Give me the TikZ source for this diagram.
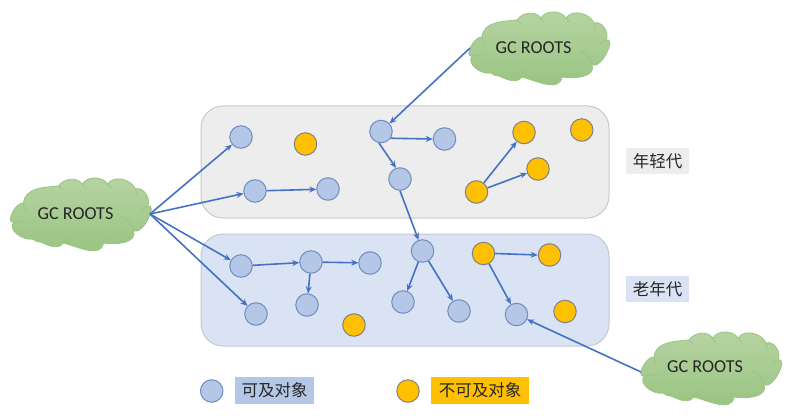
\documentclass[tikz,border=0pt]{standalone}
\usepackage{fontspec}
\setmainfont{Carlito}
\newfontfamily\cjk{Noto Sans CJK SC}
\usetikzlibrary{arrows.meta}
\definecolor{blueobj}{HTML}{B4C7E7}
\definecolor{blueline}{HTML}{6F8DBE}
\definecolor{orangeobj}{HTML}{FFC000}
\definecolor{greyline}{HTML}{7F8088}
\definecolor{link}{HTML}{4472C4}
\definecolor{youngfill}{HTML}{EDEDED}
\definecolor{youngline}{HTML}{C9C9C9}
\definecolor{oldfill}{HTML}{D9E3F3}
\definecolor{oldline}{HTML}{C5CAD3}
\definecolor{cloudtop}{HTML}{B7D4A3}
\definecolor{cloudbot}{HTML}{97C37F}
\definecolor{cloudline}{HTML}{9CC685}
\tikzset{
  live/.style={circle,draw=blueline,fill=blueobj,line width=1pt,minimum size=22.5pt,inner sep=0pt},
  dead/.style={circle,draw=greyline,fill=orangeobj,line width=1pt,minimum size=22.5pt,inner sep=0pt},
  linkline/.style={draw=link,line width=1.6pt,-{Stealth[length=7pt,width=6pt]}},
  gen/.style={rounded corners=22pt,line width=1pt},
  tag/.style={font=\cjk\fontsize{16.5}{20}\selectfont,text=black!85,inner sep=0pt,minimum height=26.5pt,anchor=center},
  cloudtext/.style={font=\fontsize{18.2}{20}\selectfont,text=black!85,inner sep=0pt},
  cloudbody/.style={draw=cloudline,line width=0.9pt,top color=cloudtop,bottom color=cloudbot},
  clouddetail/.style={draw=cloudline,line width=0.9pt}
}
\newcommand{\gccloud}[5]{%
  \begin{scope}[shift={(#1,#2)}]
    \path[cloudbody] (-57,-12) to[out=85,in=185] (-22,-29)
      to[out=55,in=125] (1.7,-31)
      to[out=55,in=125] (27,-31)
      to[out=55,in=115] (55,-26)
      to[out=20,in=60] (67,-9)
      to[out=20,in=-20] (53,16)
      to[out=-70,in=-10] (23,28)
      to[out=-100,in=-15] (-17,28)
      to[out=-130,in=-15] (-48,24)
      to[out=-170,in=-125] (-67,7)
      to[out=-170,in=175] (-57,-12) -- cycle;
    \path[clouddetail] (-57,-12) to[out=-80,in=150] (-54,-4);
    \path[clouddetail] (-67,7) to[out=10,in=180] (-53,6);
    \path[clouddetail] (-48,24) to[out=-30,in=190] (-40,27);
    \path[clouddetail] (-17,28) to[out=50,in=-130] (-13,22);
    \path[clouddetail] (23,28) to[out=60,in=-70] (25,23);
    \path[clouddetail] (53,16) to[out=100,in=-20] (41,2);
    \path[clouddetail] (67,-9) to[out=-160,in=60] (61,-4);
    \path[clouddetail] (55,-26) to[out=-50,in=60] (55,-19);
    \path[clouddetail] (27,-31) to[out=-50,in=150] (31,-27);
    \path[clouddetail] (1.7,-31) to[out=-60,in=170] (5,-27);
    \path[clouddetail] (-22,-29) to[out=-30,in=170] (-18,-26);
  \end{scope}
  \node[cloudtext] (#5) at (#3,#4) {GC ROOTS};
}
\begin{document}
\begin{tikzpicture}[x=1pt,y=-1pt]
\useasboundingbox (0,0) rectangle (786,417);
\draw[gen,draw=youngline,fill=youngfill] (201,106) rectangle (609,218);
\draw[gen,draw=oldline,fill=oldfill] (201,234) rectangle (609,346);

\gccloud{80.5}{215}{75.5}{214}{rootleft}
\gccloud{539}{49}{533.5}{48}{roottop}
\gccloud{711}{369}{705}{367}{rootright}
\coordinate (exitleft) at (150,214);
\coordinate (exittop) at (470,48);
\coordinate (exitright) at (641,372);

% young generation
\node[live] (a1) at (241,137) {};
\node[dead] (o1) at (305.5,144) {};
\node[live] (b) at (255,191) {};
\node[live] (c) at (328,189) {};
\node[live] (d) at (381,131.5) {};
\node[live] (e) at (444.5,139) {};
\node[live] (f) at (400,179) {};
\node[dead] (y1) at (524,132.5) {};
\node[dead] (y2) at (581.7,130) {};
\node[dead] (y3) at (538,169) {};
\node[dead] (y4) at (476.5,192) {};
% old generation
\node[live] (g) at (241,266) {};
\node[live] (h) at (311,262) {};
\node[live] (i) at (370,263) {};
\node[live] (j) at (307,305) {};
\node[live] (k) at (256,314) {};
\node[dead] (o2) at (354,325) {};
\node[live] (l) at (422.5,251) {};
\node[live] (m) at (403,302) {};
\node[live] (n) at (459,311) {};
\node[dead] (p) at (483.5,253.5) {};
\node[dead] (q) at (549.5,255) {};
\node[live] (r) at (516.5,314.5) {};
\node[dead] (s) at (565,311.5) {};

% connectors
\draw[linkline] (exitleft) -- (a1);
\draw[linkline] (exitleft) -- (b);
\draw[linkline] (exitleft) -- (g);
\draw[linkline] (exitleft) -- (k);
\draw[linkline] (exittop) -- (d);
\draw[linkline] (exitright) -- (r);
\draw[linkline] (b) -- (c);
\draw[linkline] (d.-35) -- (e.west);
\draw[linkline] (d.-100) -- (f.110);
\draw[linkline] (f.south) -- (l.110);
\draw[linkline] (g) -- (h);
\draw[linkline] (h) -- (i);
\draw[linkline] (h) -- (j);
\draw[linkline] (l) -- (m);
\draw[linkline] (l) -- (n);
\draw[linkline] (p.east) -- (q.west);
\draw[linkline] (p) -- (r);
\draw[linkline] (y4) -- (y1);
\draw[linkline] (y4) -- (y3);

% labels
\node[tag,fill=youngfill,minimum width=63pt] (younglabel) at (657.5,161) {年轻代};
\node[tag,fill=oldfill,minimum width=63pt] (oldlabel) at (657.5,289) {老年代};
% legend
\node[live] (legendlive) at (211.7,391) {};
\node[dead] (legenddead) at (408,391) {};
\node[tag,fill=blueobj,minimum width=79pt] (legendlivetext) at (274.5,390.5) {可及对象};
\node[tag,fill=orangeobj,minimum width=98pt] (legenddeadtext) at (480,390.5) {不可及对象};
\end{tikzpicture}
\end{document}
